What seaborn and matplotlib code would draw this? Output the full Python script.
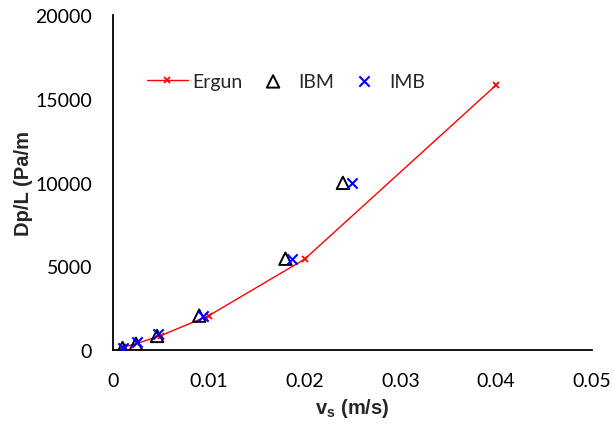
import matplotlib
matplotlib.use("Agg")
import matplotlib.pyplot as plt
import seaborn as sns
import pandas as pd

# Data
ergun_v = [0.001, 0.0025, 0.005, 0.01, 0.02, 0.04]
ergun_dp = [150, 390, 860, 2050, 5420, 15820]
ibm_v = [0.001, 0.0024, 0.0046, 0.009, 0.018, 0.024]
ibm_dp = [120, 370, 840, 2050, 5450, 9980]
imb_v = [0.001, 0.0025, 0.0047, 0.0094, 0.0187, 0.025]
imb_dp = [130, 460, 950, 2050, 5450, 10000]

x_ticks = [0, 0.01, 0.02, 0.03, 0.04, 0.05]
x_tick_labels = ["0", "0.01", "0.02", "0.03", "0.04", "0.05"]
y_ticks = [0, 5000, 10000, 15000, 20000]
y_tick_labels = ["0", "5000", "10000", "15000", "20000"]

sns.set_theme(style="white")
plt.rcParams['font.family'] = ['Lato', 'DejaVu Sans']

fig = plt.figure(figsize=(6.13, 4.27), dpi=100)
ax = fig.add_axes([0.1843, 0.178, 0.7814, 0.7845])

df_e = pd.DataFrame({"v": ergun_v, "dp": ergun_dp})
df_i = pd.DataFrame({"v": ibm_v, "dp": ibm_dp})
df_m = pd.DataFrame({"v": imb_v, "dp": imb_dp})

sns.lineplot(data=df_e, x="v", y="dp", ax=ax, color="red", lw=1.0,
             marker="x", markersize=5, markeredgewidth=1.3,
             markeredgecolor="red", label="Ergun", sort=False)
sns.scatterplot(data=df_i, x="v", y="dp", ax=ax, marker="^", s=80,
                facecolors="none", edgecolor="black", linewidth=1.4,
                label="IBM", zorder=3)
sns.scatterplot(data=df_m, x="v", y="dp", ax=ax, marker="x", s=55,
                color="blue", linewidth=1.5, label="IMB", zorder=4)

ax.set_xlim(0, 0.05)
ax.set_ylim(0, 20000)
ax.set_xticks(x_ticks)
ax.set_xticklabels(x_tick_labels)
ax.set_yticks(y_ticks)
ax.set_yticklabels(y_tick_labels)
ax.tick_params(direction="in", length=5, width=1.3, colors="black",
               labelsize=14)
ax.tick_params(axis="x", pad=16)
ax.tick_params(axis="y", pad=15)

for s in ["top", "right"]:
    ax.spines[s].set_visible(False)
for s in ["left", "bottom"]:
    ax.spines[s].set_color("black")
    ax.spines[s].set_linewidth(1.3)

ax.set_xlabel(r"v$_\mathregular{s}$ (m/s)", fontsize=14.5, fontweight="bold",
              family=["Liberation Sans"], labelpad=5)
ax.set_ylabel("Dp/L (Pa/m", fontsize=14.5, fontweight="bold",
              family=["Liberation Sans"], labelpad=2)

leg = ax.legend(loc="center left", bbox_to_anchor=(0.071, 0.803), ncol=3,
                frameon=False, fontsize=14, handlelength=2.1,
                columnspacing=0.5, handletextpad=0.25, borderpad=0,
                borderaxespad=0)

fig.savefig("out.png", dpi=100)
